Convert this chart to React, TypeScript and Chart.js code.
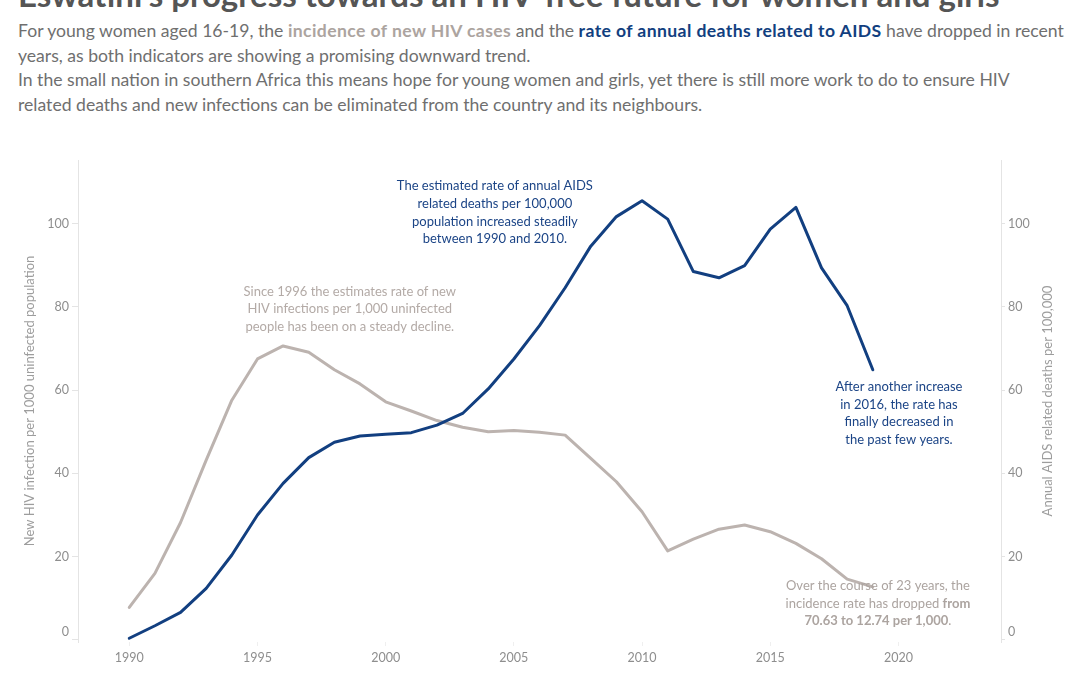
import React, { useEffect, useRef } from "react";
import { Chart, registerables } from "chart.js";

Chart.register(...registerables);

// ---------- data ----------
const years = [
  1990, 1991, 1992, 1993, 1994, 1995, 1996, 1997, 1998, 1999,
  2000, 2001, 2002, 2003, 2004, 2005, 2006, 2007, 2008, 2009,
  2010, 2011, 2012, 2013, 2014, 2015, 2016, 2017, 2018, 2019,
];
// New HIV infections per 1,000 uninfected population (women 16-19)
const hivIncidence = [
  7.8, 16.0, 28.2, 43.2, 57.6, 67.5, 70.63, 69.1, 64.9, 61.5,
  57.2, 55.0, 52.7, 51.1, 50.0, 50.3, 49.9, 49.2, 43.6, 38.0,
  30.8, 21.4, 24.2, 26.6, 27.6, 26.0, 23.2, 19.5, 14.6, 12.74,
];
// Annual AIDS related deaths per 100,000
const aidsDeaths = [
  0.4, 3.4, 6.6, 12.4, 20.4, 30.0, 37.6, 43.8, 47.5, 49.0,
  49.4, 49.8, 51.6, 54.4, 60.3, 67.5, 75.5, 84.6, 94.6, 101.7,
  105.5, 101.1, 88.5, 87.0, 89.9, 98.7, 103.9, 89.4, 80.3, 64.9,
];
const xTicks = [1990, 1995, 2000, 2005, 2010, 2015, 2020];
const yTicks = [0, 20, 40, 60, 80, 100];

const TITLE = "Eswatini's progress towards an HIV-free future for women and girls";

const GRAY = "#bcb3af";
const BLUE = "#123f80";
const FONT = "Lato, 'Open Sans', sans-serif";

type Seg = [string, boolean];
type Note = { x: number; y: number; color: string; lh: number; lines: Seg[][] };

const notes: Note[] = [
  {
    x: 2004.26, y: 109.1, color: "#1b4486", lh: 17.8,
    lines: [
      [["The estimated rate of annual AIDS", false]],
      [["related deaths per 100,000", false]],
      [["population increased steadily", false]],
      [["between 1990 and 2010.", false]],
    ],
  },
  {
    x: 1998.6, y: 83.7, color: "#b3aaa6", lh: 17.6,
    lines: [
      [["Since 1996 the estimates rate of new", false]],
      [["HIV infections per 1,000 uninfected", false]],
      [["people has been on a steady decline.", false]],
    ],
  },
  {
    x: 2020.02, y: 60.8, color: "#1b4486", lh: 17.7,
    lines: [
      [["After another increase", false]],
      [["in 2016, the rate has", false]],
      [["finally decreased in", false]],
      [["the past few years.", false]],
    ],
  },
  {
    x: 2019.2, y: 13.0, color: "#aca4a0", lh: 17.6,
    lines: [
      [["Over the course of 23 years, the", false]],
      [["incidence rate has dropped ", false], ["from", true]],
      [["70.63 to 12.74 per 1,000", true], [".", false]],
    ],
  },
];

const overlayPlugin = {
  id: "overlay",
  afterDraw(chart: any) {
    const { ctx, chartArea, scales } = chart;
    const yL = scales.y;
    const yR = scales.y1;
    const xS = scales.x;
    ctx.save();
    // y tick labels (bottom label kept inside the axis like the original)
    ctx.font = `12.5px ${FONT}`;
    ctx.fillStyle = "#8e8e8e";
    ctx.textBaseline = "middle";
    yTicks.forEach((v) => {
      const pyL = Math.min(yL.getPixelForValue(v), chartArea.bottom - 10);
      ctx.textAlign = "right";
      ctx.fillText(String(v), chartArea.left - 9, pyL);
      const pyR = Math.min(yR.getPixelForValue(v), chartArea.bottom - 10);
      ctx.textAlign = "left";
      ctx.fillText(String(v), chartArea.right + 7, pyR);
    });
    // axis titles (both read bottom to top)
    const cy = (chartArea.top + chartArea.bottom) / 2;
    ctx.font = `13px ${FONT}`;
    ctx.fillStyle = "#9d9d9d";
    ctx.textAlign = "center";
    ctx.textBaseline = "middle";
    [
      [chartArea.left - 48, "New HIV infection per 1000 uninfected population"],
      [chartArea.right + 47, "Annual AIDS related deaths per 100,000"],
    ].forEach(([x, t]: any) => {
      ctx.save();
      ctx.translate(x, cy);
      ctx.rotate(-Math.PI / 2);
      ctx.fillText(t, 0, 0);
      ctx.restore();
    });
    // annotations
    ctx.textBaseline = "middle";
    ctx.textAlign = "left";
    notes.forEach((n) => {
      const cx = xS.getPixelForValue(n.x);
      const y0 = yL.getPixelForValue(n.y);
      ctx.fillStyle = n.color;
      n.lines.forEach((line, i) => {
        let w = 0;
        line.forEach(([t, b]) => {
          ctx.font = `${b ? "bold " : ""}13px ${FONT}`;
          w += ctx.measureText(t).width;
        });
        let x = cx - w / 2;
        line.forEach(([t, b]) => {
          ctx.font = `${b ? "bold " : ""}13px ${FONT}`;
          ctx.fillText(t, x, y0 + i * n.lh);
          x += ctx.measureText(t).width;
        });
      });
    });
    ctx.restore();
  },
};

const CANVAS_TOP = 140;

export default function App() {
  const ref = useRef<HTMLCanvasElement | null>(null);

  useEffect(() => {
    document.body.style.margin = "0";
    if (!ref.current) return;
    const axisGrid = {
      display: true,
      drawOnChartArea: false,
      drawTicks: true,
      tickLength: 6,
      color: "#e4e4e4",
    };
    const chart = new Chart(ref.current, {
      type: "line",
      data: {
        datasets: [
          {
            label: "Annual AIDS related deaths per 100,000",
            data: years.map((y, i) => ({ x: y, y: aidsDeaths[i] })),
            borderColor: BLUE,
            borderWidth: 3,
            pointRadius: 0,
            tension: 0,
            yAxisID: "y1",
            borderJoinStyle: "round",
            borderCapStyle: "round",
          },
          {
            label: "New HIV infection per 1000 uninfected population",
            data: years.map((y, i) => ({ x: y, y: hivIncidence[i] })),
            borderColor: GRAY,
            borderWidth: 3,
            pointRadius: 0,
            tension: 0,
            yAxisID: "y",
            borderJoinStyle: "round",
            borderCapStyle: "round",
          },
        ],
      },
      options: {
        responsive: false,
        animation: false,
        layout: { padding: { top: 160 - CANVAS_TOP, left: 0, right: 0, bottom: 0 } },
        plugins: { legend: { display: false }, tooltip: { enabled: false } },
        scales: {
          x: {
            type: "linear",
            min: 1988,
            max: 2024,
            afterBuildTicks: (s: any) => {
              s.ticks = xTicks.map((v) => ({ value: v }));
            },
            afterFit: (s: any) => {
              s.height = 33;
            },
            ticks: {
              color: "#8e8e8e",
              font: { family: FONT, size: 12.5 },
              padding: 4,
              maxRotation: 0,
              callback: (v: any) => String(v),
            },
            grid: { ...axisGrid, tickLength: 4, color: "#efefef" },
            border: { display: false },
          },
          y: {
            position: "left",
            min: -0.5,
            max: 115.3,
            afterBuildTicks: (s: any) => {
              s.ticks = yTicks.map((v) => ({ value: v }));
            },
            afterFit: (s: any) => {
              s.width = 78;
            },
            ticks: { display: false },
            grid: axisGrid,
            border: { display: true, color: "#e4e4e4", width: 1 },
          },
          y1: {
            position: "right",
            min: -0.5,
            max: 115.3,
            afterBuildTicks: (s: any) => {
              s.ticks = yTicks.map((v) => ({ value: v }));
            },
            afterFit: (s: any) => {
              s.width = 79;
            },
            ticks: { display: false },
            grid: { ...axisGrid, tickLength: 4 },
            border: { display: true, color: "#e4e4e4", width: 1 },
          },
        },
      },
      plugins: [overlayPlugin],
    } as any);
    return () => chart.destroy();
  }, []);

  const sub: React.CSSProperties = {
    position: "absolute",
    left: 18,
    top: 19,
    width: 1062,
    fontFamily: FONT,
    fontSize: 17.6,
    lineHeight: "24.5px",
    color: "#6f6f6f",
    whiteSpace: "nowrap",
  };
  const boldSeg: React.CSSProperties = { letterSpacing: "0.4px" };

  return (
    <div
      style={{
        position: "relative",
        margin: 0,
        width: 1080,
        height: 675,
        overflow: "hidden",
        background: "#ffffff",
      }}
    >
      <canvas
        ref={ref}
        width={1080}
        height={675 - CANVAS_TOP}
        style={{
          position: "absolute",
          left: 0,
          top: CANVAS_TOP,
          width: 1080,
          height: 675 - CANVAS_TOP,
          display: "block",
        }}
      />
      <div
        style={{
          position: "absolute",
          left: 0,
          top: 0,
          width: 1080,
          height: 14,
          overflow: "hidden",
        }}
      >
        <div
          style={{
            position: "absolute",
            left: 18,
            top: -22,
            fontFamily: FONT,
            fontWeight: 700,
            fontSize: 33,
            lineHeight: "33px",
            color: "#555555",
            whiteSpace: "nowrap",
          }}
        >
          {TITLE}
        </div>
      </div>
      <div style={sub}>
        For young women aged 16-19, the{" "}
        <b style={{ ...boldSeg, color: "#aca4a0" }}>incidence of new HIV cases</b> and the{" "}
        <b style={{ ...boldSeg, color: BLUE }}>rate of annual deaths related to AIDS</b> have dropped in recent
        <br />
        years, as both indicators are showing a promising downward trend.
        <br />
        In the small nation in southern Africa this means hope for young women and girls, yet there is still more work to do to ensure HIV
        <br />
        related deaths and new infections can be eliminated from the country and its neighbours.
      </div>
    </div>
  );
}
